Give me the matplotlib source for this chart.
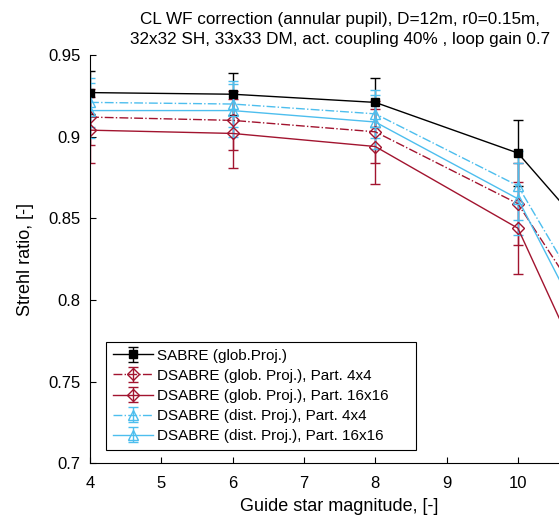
import matplotlib
matplotlib.use("Agg")
import matplotlib.pyplot as plt

plt.rcParams["font.family"] = ["Liberation Sans", "DejaVu Sans"]

magnitudes = [4, 6, 8, 10, 11]

sabre = [0.927, 0.926, 0.921, 0.890, 0.840]
sabre_err = [0.013, 0.013, 0.015, 0.020, 0.022]

glob_4x4 = [0.912, 0.910, 0.903, 0.859, 0.792]
glob_4x4_err = [0.017, 0.018, 0.019, 0.025, 0.028]

glob_16x16 = [0.904, 0.902, 0.894, 0.844, 0.749]
glob_16x16_err = [0.020, 0.021, 0.023, 0.028, 0.032]

dist_4x4 = [0.921, 0.920, 0.914, 0.870, 0.796]
dist_4x4_err = [0.015, 0.014, 0.0145, 0.021, 0.025]

dist_16x16 = [0.916, 0.916, 0.909, 0.862, 0.777]
dist_16x16_err = [0.017, 0.016, 0.0165, 0.022, 0.027]

labels = [
    "SABRE (glob.Proj.)",
    "DSABRE (glob. Proj.), Part. 4x4",
    "DSABRE (glob. Proj.), Part. 16x16",
    "DSABRE (dist. Proj.), Part. 4x4",
    "DSABRE (dist. Proj.), Part. 16x16",
]

red = "#A2142F"
blue = "#4DBEEE"

fig = plt.figure(figsize=(5.59, 5.19), dpi=100)
ax = fig.add_axes([0.161, 0.107, 0.893, 0.787])

series = [
    (sabre, sabre_err, "k", "-", "s", "k", 5.5),
    (glob_4x4, glob_4x4_err, red, "-.", "D", "none", 6.3),
    (glob_16x16, glob_16x16_err, red, "-", "D", "none", 6.3),
    (dist_4x4, dist_4x4_err, blue, "-.", "^", "none", 7),
    (dist_16x16, dist_16x16_err, blue, "-", "^", "none", 7),
]

for (vals, errs, color, ls, marker, mfc, ms), label in zip(series, labels):
    ax.errorbar(magnitudes, vals, yerr=errs, color=color, linestyle=ls,
                linewidth=1.0, marker=marker, markersize=ms, markerfacecolor=mfc,
                markeredgecolor=color, markeredgewidth=1.0, elinewidth=1.0,
                capsize=3.8, capthick=1.0, label=label)

ax.set_xlim(4, 11)
ax.set_ylim(0.7, 0.95)
# the 11 tick sits past the right edge of the picture
ax.set_xticks([4, 5, 6, 7, 8, 9, 10])
ax.set_yticks([0.7, 0.75, 0.8, 0.85, 0.9, 0.95])
ax.set_yticklabels(["0.7", "0.75", "0.8", "0.85", "0.9", "0.95"])
ax.spines["top"].set_visible(False)
ax.spines["right"].set_visible(False)
ax.spines["left"].set_linewidth(0.8)
ax.spines["bottom"].set_linewidth(0.8)
ax.tick_params(direction="in", length=4, width=0.8, labelsize=12)
ax.tick_params(axis="x", pad=9)
ax.tick_params(axis="y", pad=7)

ax.set_xlabel("Guide star magnitude, [-]", fontsize=13, labelpad=5)
ax.set_ylabel("Strehl ratio, [-]", fontsize=13, labelpad=10)
ax.set_title("CL WF correction (annular pupil), D=12m, r0=0.15m,\n"
             "32x32 SH, 33x33 DM, act. coupling 40% , loop gain 0.7",
             fontsize=12.3, pad=8, linespacing=1.45)

leg = ax.legend(loc="lower left", bbox_to_anchor=(0.032, 0.033, 0.621, 0.2),
                mode="expand", borderaxespad=0,
                fontsize=11, fancybox=False, framealpha=1, edgecolor="k",
                handlelength=2.6, labelspacing=0.4, borderpad=0.45, handletextpad=0.3)
leg.get_frame().set_linewidth(0.8)

fig.savefig("out.png", dpi=100)
